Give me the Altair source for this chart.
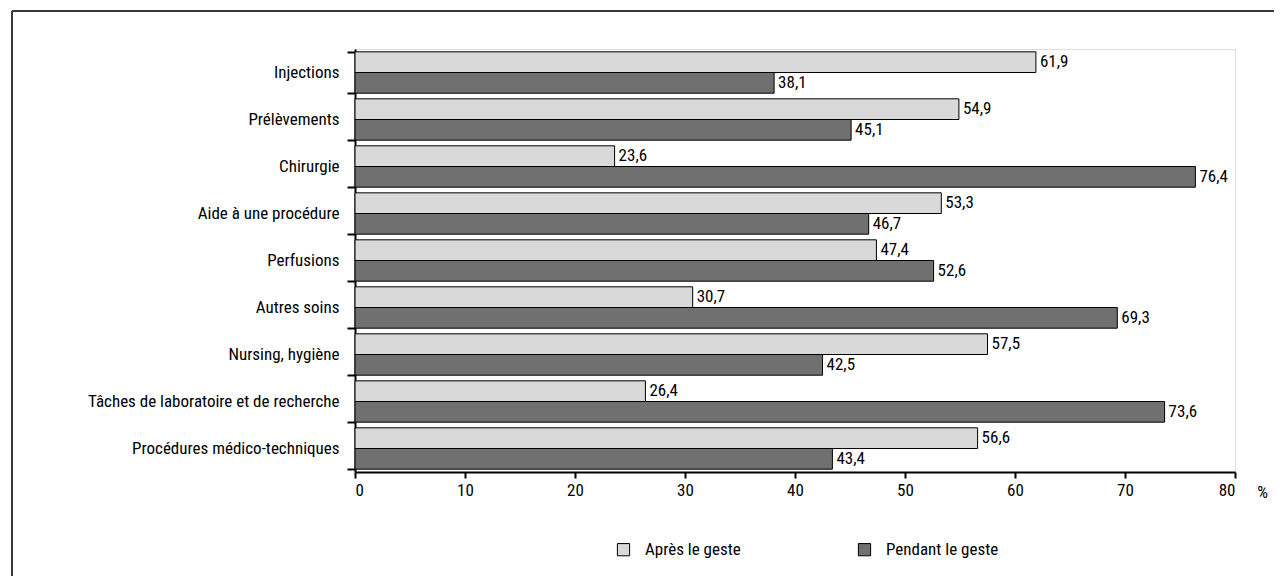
import altair as alt
import pandas as pd

categories = [
    "Injections",
    "Prélèvements",
    "Chirurgie",
    "Aide à une procédure",
    "Perfusions",
    "Autres soins",
    "Nursing, hygiène",
    "Tâches de laboratoire et de recherche",
    "Procédures médico-techniques",
]
series = ["Après le geste", "Pendant le geste"]
apres = [61.9, 54.9, 23.6, 53.3, 47.4, 30.7, 57.5, 26.4, 56.6]
pendant = [38.1, 45.1, 76.4, 46.7, 52.6, 69.3, 42.5, 73.6, 43.4]
colors = ["#d9d9d9", "#707070"]
x_ticks = [0, 10, 20, 30, 40, 50, 60, 70, 80]

rows = []
for c, a, p in zip(categories, apres, pendant):
    rows.append({"cat": c, "serie": series[0], "val": a, "lab": f"{a:.1f}".replace(".", ",")})
    rows.append({"cat": c, "serie": series[1], "val": p, "lab": f"{p:.1f}".replace(".", ",")})
df = pd.DataFrame(rows)

FONT = "Roboto Condensed, Liberation Sans Narrow, DejaVu Sans Condensed, sans-serif"
FS = 17

W, H = 880, 423

y_enc = alt.Y(
    "cat:N",
    sort=categories,
    scale=alt.Scale(paddingInner=0.12, paddingOuter=0.06),
    axis=alt.Axis(
        title=None,
        tickBand="extent",
        tickSize=8,
        tickWidth=2,
        tickColor="black",
        domainColor="black",
        domainWidth=2,
        labelFontSize=FS,
        labelColor="black",
        labelPadding=8,
        labelFont=FONT,
        labelLimit=0,
    ),
)
x_enc = alt.X(
    "val:Q",
    scale=alt.Scale(domain=[0, 80], nice=False),
    axis=alt.Axis(
        values=x_ticks,
        grid=False,
        title="%",
        titleX=W + 27,
        titleY=20,
        titleBaseline="middle",
        titleAlign="center",
        titleFontSize=FS,
        titleFontWeight="normal",
        titleFont=FONT,
        titleColor="black",
        tickSize=6,
        tickWidth=2,
        tickColor="black",
        domainColor="black",
        domainWidth=2,
        labelFontSize=FS,
        labelColor="black",
        labelPadding=4,
        labelFont=FONT,
    ),
)
yoff = alt.YOffset("serie:N", sort=series)

bars = alt.Chart(df).mark_bar(stroke="black", strokeWidth=1).encode(
    x=x_enc,
    y=y_enc,
    yOffset=yoff,
    color=alt.Color(
        "serie:N",
        sort=series,
        scale=alt.Scale(domain=series, range=colors),
        legend=alt.Legend(
            title=None,
            orient="none",
            legendX=260,
            legendY=492,
            direction="horizontal",
            symbolType="square",
            symbolSize=150,
            symbolStrokeColor="black",
            symbolStrokeWidth=1,
            symbolOpacity=1,
            labelFontSize=FS,
            labelFont=FONT,
            labelColor="black",
            labelOffset=13,
            columnPadding=115,
            padding=0,
            labelLimit=0,
        ),
    ),
)

labels = alt.Chart(df).mark_text(
    align="left", baseline="middle", dx=4, fontSize=FS, font=FONT, color="black"
).encode(
    x="val:Q",
    y=alt.Y("cat:N", sort=categories),
    yOffset=yoff,
    text="lab:N",
)

frame_top = alt.Chart(df).mark_rule(color="#3a3a3a", strokeWidth=1.5).encode(
    x=alt.value(-343), x2=alt.value(1000), y=alt.value(-38)
)
frame_left = alt.Chart(df).mark_rule(color="#3a3a3a", strokeWidth=1.5).encode(
    x=alt.value(-343), y=alt.value(-38), y2=alt.value(700)
)

chart = (
    alt.layer(bars, labels, frame_top, frame_left)
    .properties(
        width=W,
        height=H,
        autosize=alt.AutoSizeParams(type="none"),
        padding={"left": 347, "top": 41, "right": 39, "bottom": 104},
    )
    .configure_view(stroke=None)
    .configure(background="white")
)

chart.save("out.html", embed_options={"renderer": "svg", "actions": False})
